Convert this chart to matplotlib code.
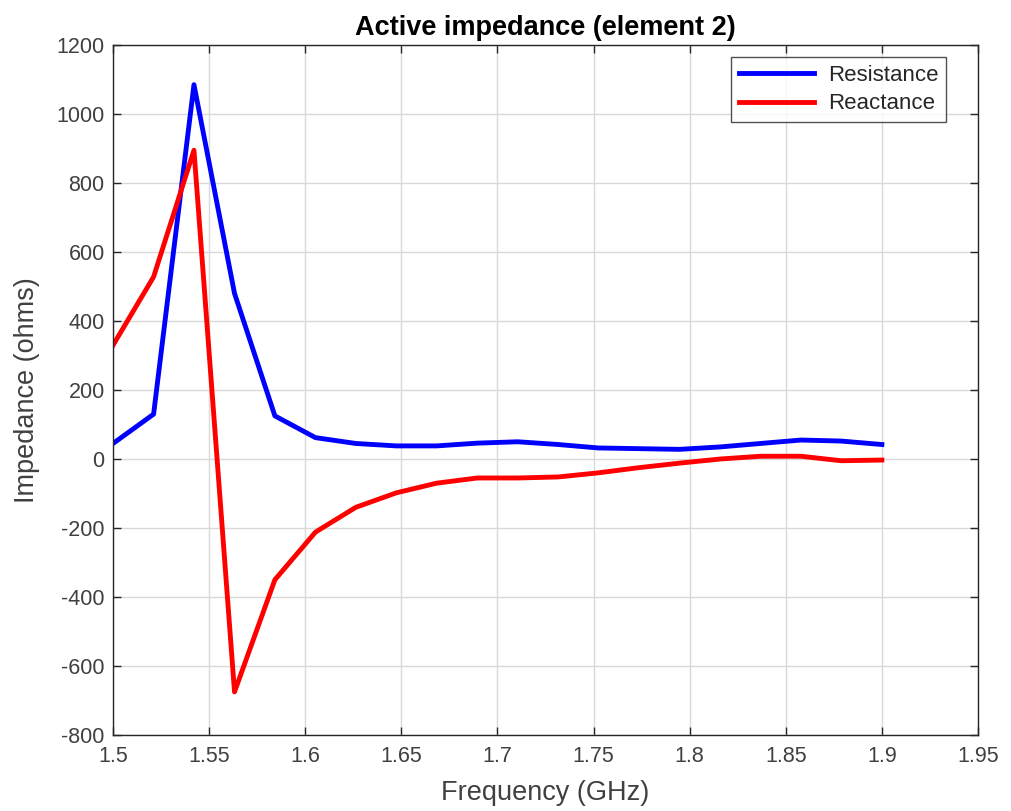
import matplotlib
matplotlib.use("Agg")
import matplotlib.pyplot as plt

plt.rcParams["font.family"] = ["Liberation Sans", "DejaVu Sans"]
plt.rcParams["axes.unicode_minus"] = False

# --- Data ---
freq_ghz = [1.5, 1.5211, 1.5421, 1.5632, 1.5842, 1.6053, 1.6263, 1.6474,
            1.6684, 1.6895, 1.7105, 1.7316, 1.7526, 1.7737, 1.7947, 1.8158,
            1.8368, 1.8579, 1.8789, 1.9]
resistance = [45, 130, 1085, 480, 125, 62, 45, 38, 38, 46, 50, 42, 32, 30,
              28, 35, 45, 55, 52, 42]
reactance = [330, 528, 895, -675, -350, -212, -140, -98, -70, -55, -55, -52,
             -40, -25, -12, 0, 8, 8, -5, -3]

x_ticks = [1.5, 1.55, 1.6, 1.65, 1.7, 1.75, 1.8, 1.85, 1.9, 1.95]
y_ticks = list(range(-800, 1201, 200))

axis_col = "#262626"
text_col = "#404040"

fig = plt.figure(figsize=(10.12, 8.11), dpi=100)
ax = fig.add_axes([0.1117, 0.0937, 0.8547, 0.8508])

ax.plot(freq_ghz, resistance, color="#0000ff", lw=3.5, label="Resistance")
ax.plot(freq_ghz, reactance, color="#ff0000", lw=3.5, label="Reactance")

ax.set_xlim(1.5, 1.95)
ax.set_ylim(-800, 1200)
ax.set_xticks(x_ticks)
ax.set_xticklabels([f"{t:g}" for t in x_ticks])
ax.set_yticks(y_ticks)

ax.grid(True, color="#d9d9d9", lw=1)
ax.set_axisbelow(True)
ax.tick_params(direction="in", top=True, right=True, length=6, width=1,
               colors=axis_col, labelsize=15.5, labelcolor=text_col)
ax.tick_params(axis="x", pad=8)
ax.tick_params(axis="y", pad=6)
for s in ax.spines.values():
    s.set_color(axis_col)
    s.set_linewidth(1)

ax.set_xlabel("Frequency (GHz)", fontsize=19.5, color=text_col, labelpad=9)
ax.set_ylabel("Impedance (ohms)", fontsize=19.5, color=text_col, labelpad=12)
ax.set_title("Active impedance (element 2)", fontsize=19.5, fontweight="bold",
             color="black", pad=7)

leg = ax.legend(loc="upper right", bbox_to_anchor=(0.963, 0.983),
                fontsize=16, frameon=True, fancybox=False, borderaxespad=0,
                handlelength=3.4, labelspacing=0.35, borderpad=0.35,
                handletextpad=0.6)
leg.get_frame().set_edgecolor(axis_col)
leg.get_frame().set_linewidth(1)
for t in leg.get_texts():
    t.set_color(axis_col)

fig.savefig("out.png", dpi=100)
plt.close(fig)
